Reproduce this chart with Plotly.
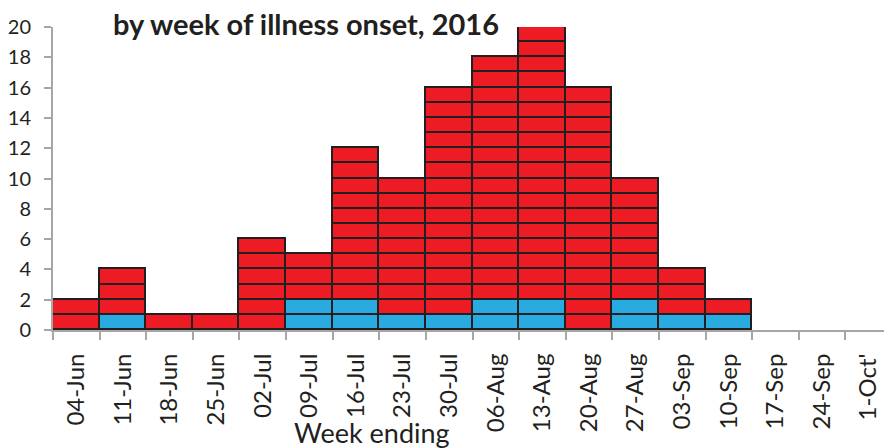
import plotly.graph_objects as go

weeks = ["04-Jun", "11-Jun", "18-Jun", "25-Jun", "02-Jul", "09-Jul", "16-Jul", "23-Jul",
         "30-Jul", "06-Aug", "13-Aug", "20-Aug", "27-Aug", "03-Sep", "10-Sep", "17-Sep",
         "24-Sep", "1-Oct'"]
blue_cases = [0, 1, 0, 0, 0, 2, 2, 1, 1, 2, 2, 0, 2, 1, 1, 0, 0, 0]
red_cases = [2, 3, 1, 1, 6, 3, 10, 9, 15, 16, 18, 16, 8, 3, 1, 0, 0, 0]
y_ticks = list(range(0, 21, 2))

BLUE = "#29ABE2"
RED = "#ED1C24"
EDGE = "#231F20"

totals = [b + r for b, r in zip(blue_cases, red_cases)]
max_total = max(totals)

fig = go.Figure()
for k in range(1, max_total + 1):
    ys = [1 if t >= k else None for t in totals]
    cols = [BLUE if k <= b else RED for b in blue_cases]
    fig.add_trace(go.Bar(
        x=weeks, y=ys,
        marker=dict(color=cols, line=dict(color=EDGE, width=1.8)),
        showlegend=False, hoverinfo="skip",
    ))

# page body has an 8px margin, so figure coordinates are screen coordinates - 8
W, H = 892, 448
L, T, B, R = 45, 19, 126, 8
ph = H - T - B

fig.update_layout(
    barmode="stack", bargap=0,
    width=W, height=H,
    margin=dict(l=L, r=R, t=T, b=B, autoexpand=False),
    plot_bgcolor="white", paper_bgcolor="white",
    font=dict(family="Lato, Open Sans, sans-serif", color="#231F20"),
    title=dict(text="<b>by week of illness onset, 2016</b>", x=105 / W, xanchor="left",
               y=1 - 17 / H, yanchor="middle", font=dict(size=29, color="#231F20")),
    annotations=[dict(text="Week ending", xref="paper", yref="paper",
                      x=(363.5 - L) / (W - L - R), y=-(406 - (T + ph)) / ph, xanchor="center",
                      yanchor="top", showarrow=False, font=dict(size=27))],
)
fig.update_xaxes(
    type="category", range=[-0.5, len(weeks) - 0.5], automargin=False,
    showline=True, linecolor="#A6A6A6", linewidth=2,
    ticks="outside", tickson="boundaries", ticklen=8, tickcolor="#A6A6A6", tickwidth=2,
    tickangle=-90, tickfont=dict(size=24), showgrid=False, ticklabelstandoff=12,
)
fig.update_yaxes(
    range=[0, 20], tickvals=y_ticks, automargin=False,
    showline=True, linecolor="#A6A6A6", linewidth=2,
    ticks="outside", ticklen=7, tickcolor="#A6A6A6", tickwidth=2,
    tickfont=dict(size=20), showgrid=False, zeroline=False, ticklabelstandoff=9,
)

fig.write_html("out.html")
